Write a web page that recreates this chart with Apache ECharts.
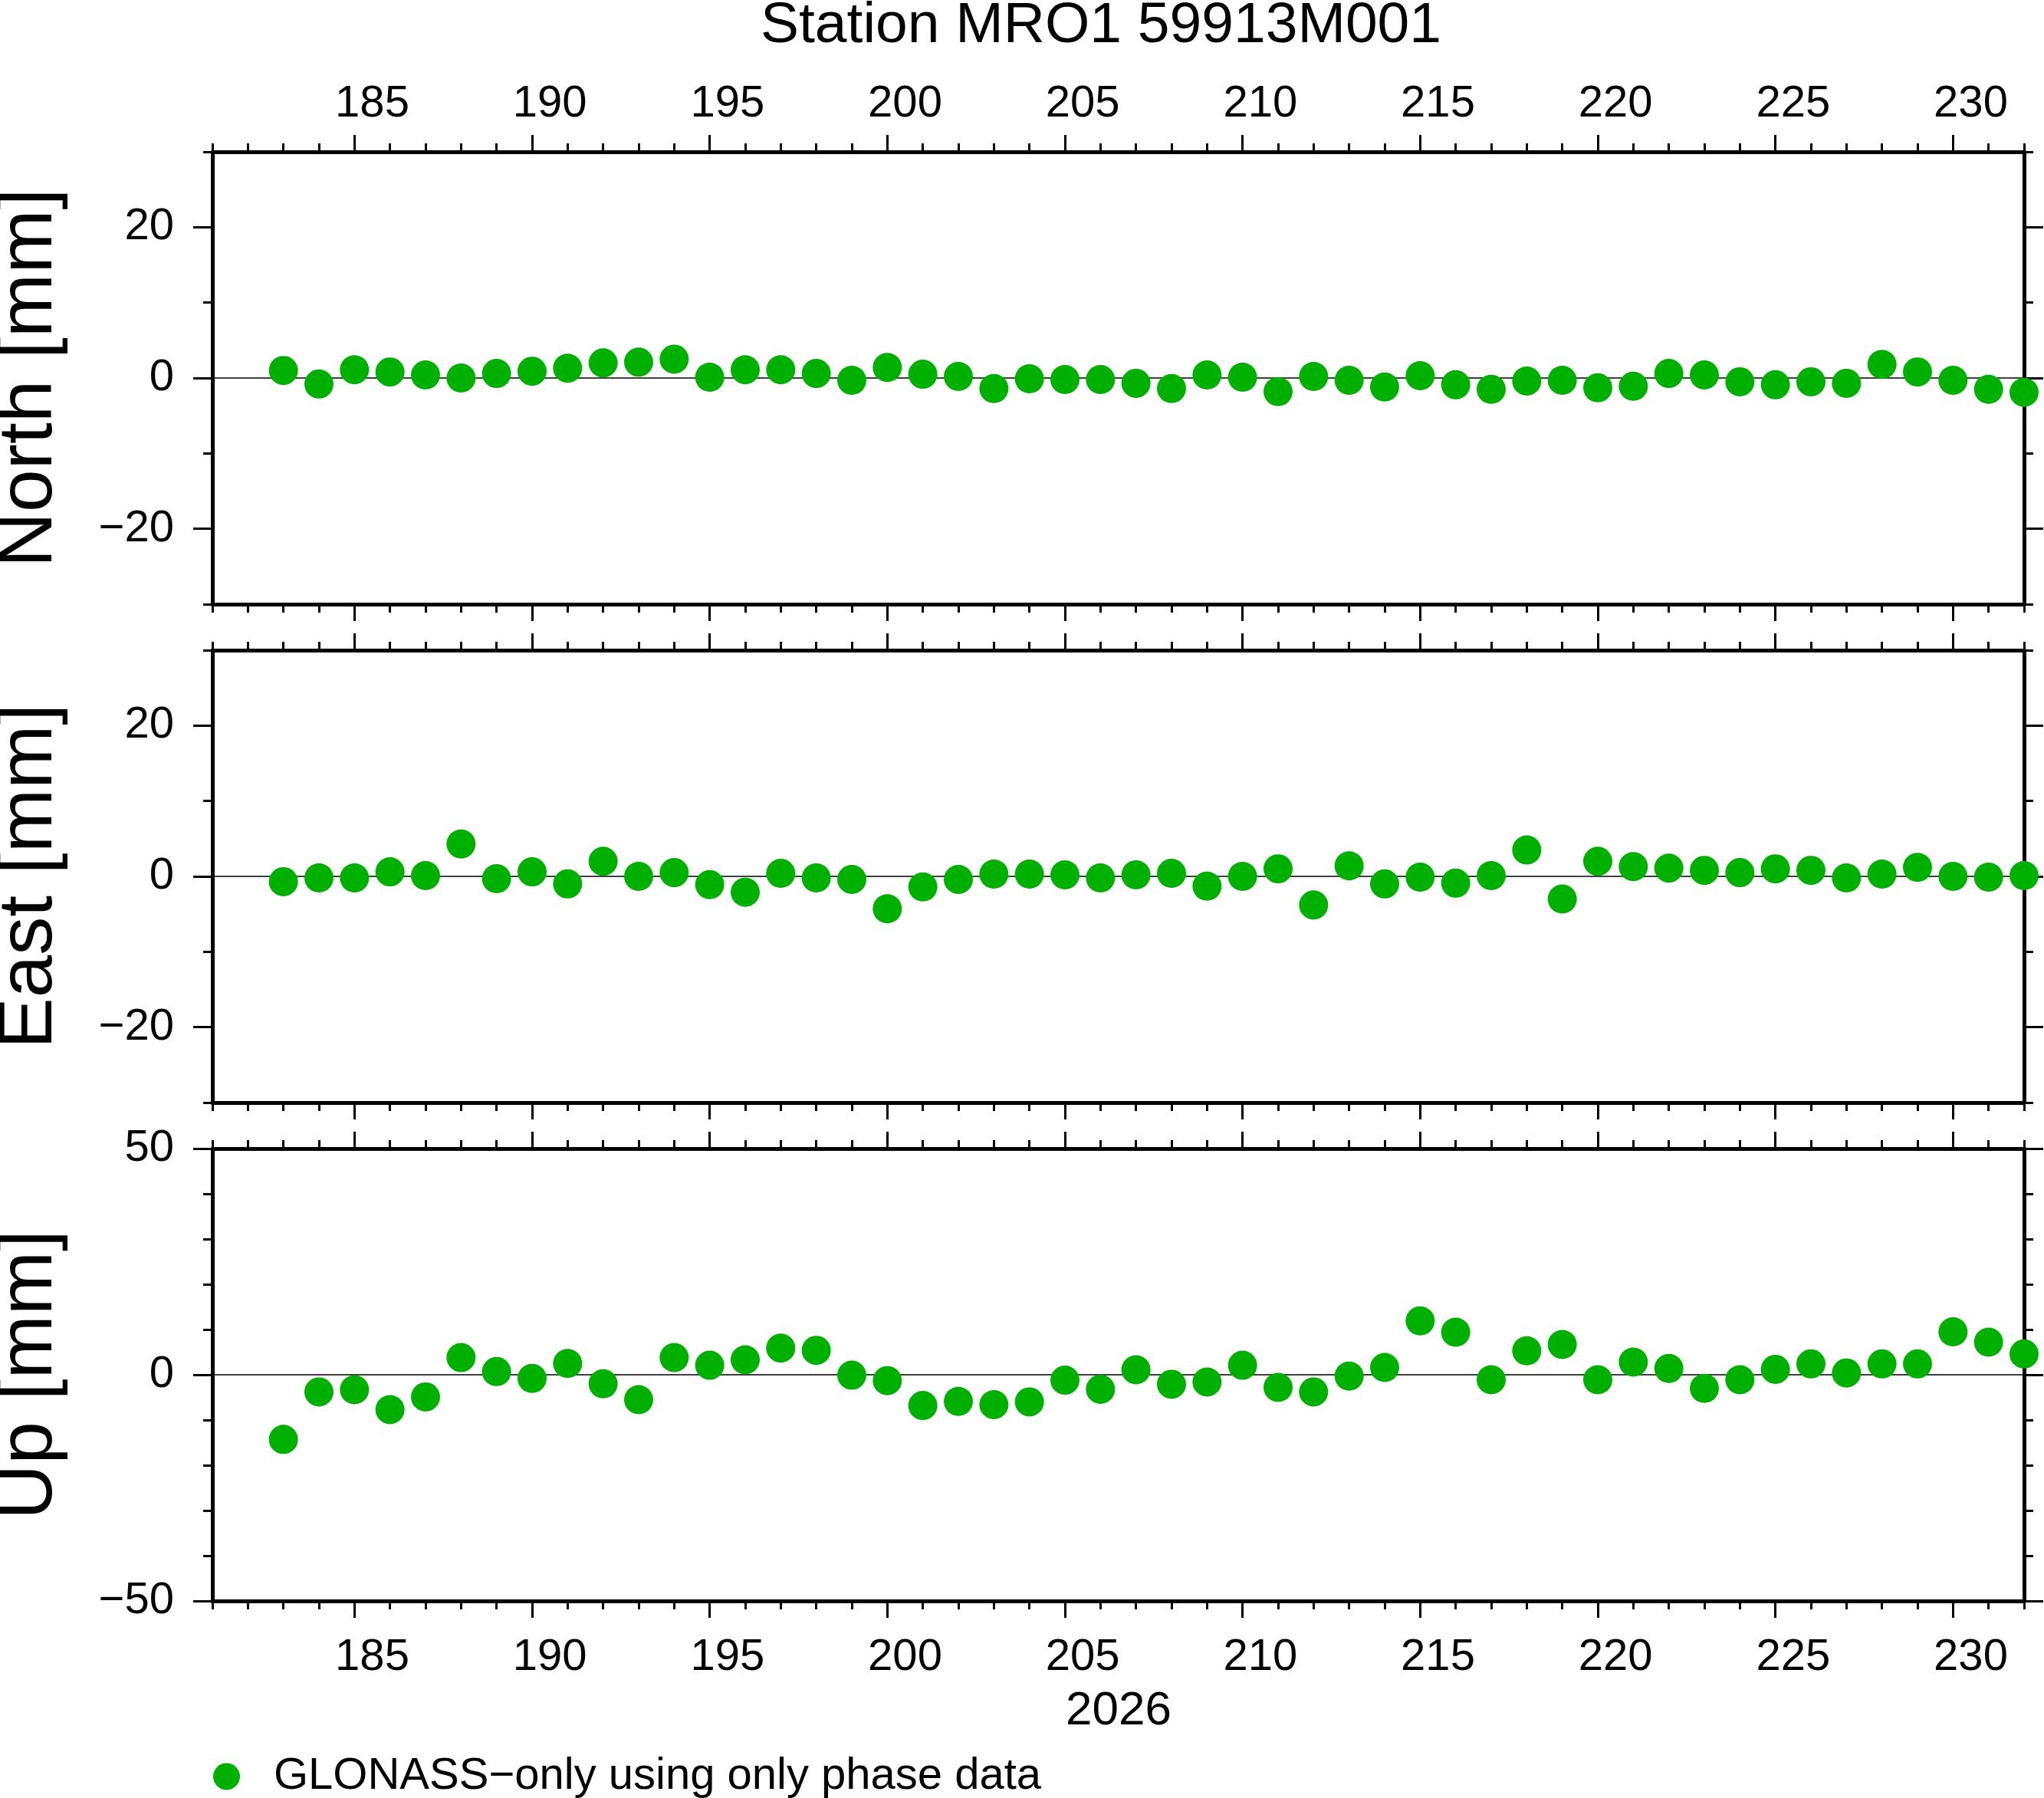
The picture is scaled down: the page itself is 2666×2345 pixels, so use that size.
<!DOCTYPE html>
<html>
<head>
<meta charset="utf-8">
<title>Station MRO1 59913M001</title>
<script src="https://cdn.jsdelivr.net/npm/echarts@6/dist/echarts.min.js"></script>
<style>
  html, body { margin: 0; padding: 0; background: #ffffff; }
  #chart { width: 2666px; height: 2345px; }
</style>
</head>
<body>
<div id="chart"></div>
<script>
// day of year 2026
var days = [183,184,185,186,187,188,189,190,191,192,193,194,195,196,197,198,199,200,201,202,203,204,205,206,
            207,208,209,210,211,212,213,214,215,216,217,218,219,220,221,222,223,224,225,226,227,228,229,230,231,232];
// residuals in mm
var north = [1.0,-0.8,1.1,0.8,0.4,0.0,0.6,0.9,1.3,2.0,2.1,2.5,0.1,1.1,1.1,0.6,-0.3,1.4,0.5,0.2,-1.4,-0.1,-0.2,-0.2,
             -0.7,-1.4,0.4,0.1,-1.8,0.2,-0.3,-1.2,0.3,-0.9,-1.5,-0.4,-0.3,-1.3,-1.1,0.6,0.4,-0.5,-0.9,-0.5,-0.7,1.8,0.8,-0.3,-1.5,-1.9];
var east = [-0.7,-0.2,-0.2,0.6,0.1,4.3,-0.3,0.6,-1.0,2.0,0.0,0.5,-1.1,-2.1,0.4,-0.2,-0.4,-4.3,-1.4,-0.4,0.3,0.3,0.2,-0.2,
            0.2,0.4,-1.3,0.0,1.0,-3.8,1.4,-1.0,-0.1,-0.9,0.1,3.5,-3.0,2.0,1.3,1.1,0.8,0.5,1.0,0.8,-0.2,0.3,1.2,0.0,-0.1,0.1];
var up = [-14.3,-3.8,-3.3,-7.7,-4.9,3.8,0.7,-0.8,2.5,-2.0,-5.5,3.8,2.1,3.3,5.9,5.4,-0.1,-1.3,-6.8,-5.9,-6.6,-6.0,-1.2,-3.2,
          1.1,-2.1,-1.6,2.1,-2.8,-3.8,-0.3,1.6,11.9,9.4,-1.1,5.3,6.7,-1.1,2.8,1.4,-3.0,-1.1,1.2,2.4,0.4,2.4,2.4,9.5,7.2,4.6];

var dayMin = 181, dayMax = 232;
var dayTicks = [185,190,195,200,205,210,215,220,225,230];
var panelNames = ['North [mm]', 'East [mm]', 'Up [mm]'];
var panelRanges = [[-30, 30], [-30, 30], [-50, 50]];
var panelMajor = [[-20, 0, 20], [-20, 0, 20], [-50, 0, 50]];
var seriesName = 'GLONASS\u2212only using only phase data';

var FONT = 'Liberation Sans';
var GREEN = '#00b000';
var gridTop = [198, 848, 1498];
var gridH = 590, gridLeft = 277, gridRight = 26;

function minus(v) { return String(v).replace('-', '\u2212'); }

var grids = [], xAxes = [], yAxes = [], series = [], graphics = [];

for (var g = 0; g < 3; g++) {
  grids.push({ left: gridLeft, right: gridRight, top: gridTop[g], height: gridH, outerBoundsMode: 'none' });

  ['bottom', 'top'].forEach(function (pos) {
    // minor ticks every day, carries the frame line
    xAxes.push({
      type: 'value', gridIndex: g, position: pos, min: dayMin, max: dayMax, interval: 1,
      axisLine: { show: true, onZero: false, lineStyle: { color: '#000', width: 5 } },
      axisTick: { show: true, length: 11, lineStyle: { color: '#000', width: 3 } },
      axisLabel: { show: false }, splitLine: { show: false }
    });
    // major ticks every 5 days, labels sit in the middle of the day
    var showLab = (pos == 'top' && g == 0) || (pos == 'bottom' && g == 2);
    xAxes.push({
      type: 'value', gridIndex: g, position: pos, min: dayMin, max: dayMax,
      axisLine: { show: false, onZero: false },
      axisTick: { show: true, length: 22, customValues: dayTicks, lineStyle: { color: '#000', width: 3 } },
      axisLabel: {
        show: showLab, customValues: dayTicks.map(function (d) { return d + 0.5; }),
        formatter: function (v) { return String(Math.round(v - 0.5)); },
        margin: pos == 'top' ? 33 : 45, color: '#000', fontFamily: FONT, fontSize: 58
      },
      splitLine: { show: false }
    });
  });

  ['left', 'right'].forEach(function (pos) {
    yAxes.push({
      type: 'value', gridIndex: g, position: pos, min: panelRanges[g][0], max: panelRanges[g][1], interval: 10,
      axisLine: { show: true, onZero: false, lineStyle: { color: '#000', width: 5 } },
      axisTick: { show: true, length: 12, lineStyle: { color: '#000', width: 3 } },
      axisLabel: { show: false }, splitLine: { show: false }
    });
    yAxes.push({
      type: 'value', gridIndex: g, position: pos, min: panelRanges[g][0], max: panelRanges[g][1],
      axisLine: { show: false, onZero: false },
      axisTick: { show: true, length: 25, customValues: panelMajor[g], lineStyle: { color: '#000', width: 3 } },
      axisLabel: {
        show: pos == 'left', customValues: panelMajor[g], formatter: minus,
        margin: 50, padding: [8, 0, 0, 0], color: '#000', fontFamily: FONT, fontSize: 58
      },
      splitLine: { show: false }
    });
  });

  var vals = [north, east, up][g];
  series.push({
    name: seriesName, type: 'scatter', xAxisIndex: g * 4, yAxisIndex: g * 4,
    symbol: 'circle', symbolSize: 38, clip: false, z: 5,
    itemStyle: { color: GREEN, opacity: 1 },
    data: days.map(function (d, i) { return [d, vals[i]]; }),
    markLine: {
      silent: true, symbol: 'none', z: 1, animation: false,
      label: { show: false },
      lineStyle: { color: '#000', width: 1.6, type: 'solid', opacity: 1 },
      emphasis: { disabled: true },
      data: [{ yAxis: 0 }]
    },
    emphasis: { disabled: true }
  });

  graphics.push({
    type: 'text', x: 39, y: gridTop[g] + gridH / 2, rotation: Math.PI / 2,
    style: { text: panelNames[g], fill: '#000', font: '100px "' + FONT + '"', textAlign: 'center', textVerticalAlign: 'middle' }
  });
}

graphics.push({
  type: 'text', x: 1436, y: 34,
  style: { text: 'Station MRO1 59913M001', fill: '#000', font: '75px "' + FONT + '"', textAlign: 'center', textVerticalAlign: 'middle' }
});
graphics.push({
  type: 'text', x: 1459, y: 2232,
  style: { text: '2026', fill: '#000', font: '62px "' + FONT + '"', textAlign: 'center', textVerticalAlign: 'middle' }
});

var chart = echarts.init(document.getElementById('chart'));
var option = {
  backgroundColor: '#ffffff',
  animation: false,
  grid: grids,
  xAxis: xAxes,
  yAxis: yAxes,
  legend: {
    left: 278, top: 2288, padding: 0, orient: 'horizontal',
    icon: 'circle', itemWidth: 35, itemHeight: 35,
    data: [seriesName],
    textStyle: { color: '#000', fontFamily: FONT, fontSize: 58, padding: [0, 0, 0, 39] }
  },
  graphic: graphics,
  series: series
};
chart.setOption(option);
</script>
</body>
</html>
